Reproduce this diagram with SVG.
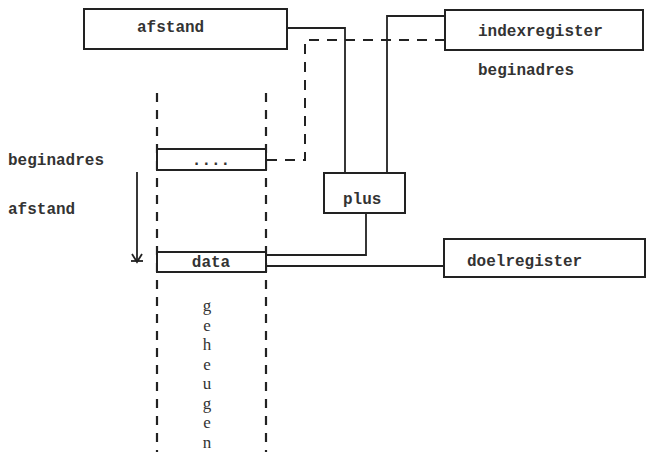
<svg xmlns="http://www.w3.org/2000/svg" width="647" height="452" viewBox="0 0 647 452">
<style>
.box{fill:#fff;stroke:#222;stroke-width:2}
.ln{fill:none;stroke:#222;stroke-width:1.8}
.dash{fill:none;stroke:#222;stroke-width:2;stroke-dasharray:10 8}
.mem{fill:none;stroke:#222;stroke-width:2.2;stroke-dasharray:9 8}
text{font-family:"Liberation Mono","DejaVu Sans Mono",monospace;font-size:16px;fill:#333;font-weight:bold}
text.v{font-family:"Liberation Serif","DejaVu Serif",serif;font-size:17px;font-weight:normal;text-anchor:middle}
</style>
<rect width="647" height="452" fill="#fff"/>
<g id="memory">
<line class="mem" x1="157" y1="93" x2="157" y2="452"/>
<line class="mem" x1="266" y1="93" x2="266" y2="452"/>
<text class="v" x="207" y="311">g</text>
<text class="v" x="207" y="330.5">e</text>
<text class="v" x="207" y="350">h</text>
<text class="v" x="207" y="369.5">e</text>
<text class="v" x="207" y="389">u</text>
<text class="v" x="207" y="408.5">g</text>
<text class="v" x="207" y="428">e</text>
<text class="v" x="207" y="447.5">n</text>
</g>
<g id="connectors">
<polyline class="ln" points="287,28 345,28 345,173"/>
<polyline class="ln" points="445,16 387,16 387,173"/>
<polyline class="dash" points="445,40 305,40 305,160 266,160"/>
<polyline class="ln" points="266,255 366,255 366,213"/>
<line class="ln" x1="266" y1="266" x2="444" y2="266"/>
<line class="ln" x1="137" y1="172" x2="137" y2="262"/>
<polyline class="ln" points="132,254 137,262 142,254"/>
<line class="ln" x1="131" y1="261" x2="143" y2="261"/>
</g>
<g id="afstand-box">
<rect class="box" x="84" y="9" width="203" height="40"/>
<text x="137" y="32">afstand</text>
</g>
<g id="indexregister">
<rect class="box" x="445" y="10" width="198" height="40"/>
<text x="478" y="36">indexregister</text>
</g>
<text x="478" y="75">beginadres</text>
<g id="plus">
<rect class="box" x="324" y="173" width="81" height="40"/>
<text x="343" y="204">plus</text>
</g>
<g id="doelregister">
<rect class="box" x="444" y="239" width="201" height="38"/>
<text x="467" y="266">doelregister</text>
</g>
<g id="cell-begin">
<rect class="box" x="157" y="149" width="109" height="21"/>
<text x="211" y="165" text-anchor="middle">....</text>
</g>
<g id="cell-data">
<rect class="box" x="157" y="252" width="109" height="20"/>
<text x="211" y="267" text-anchor="middle">data</text>
</g>
<text x="8" y="165">beginadres</text>
<text x="8" y="214">afstand</text>
</svg>
